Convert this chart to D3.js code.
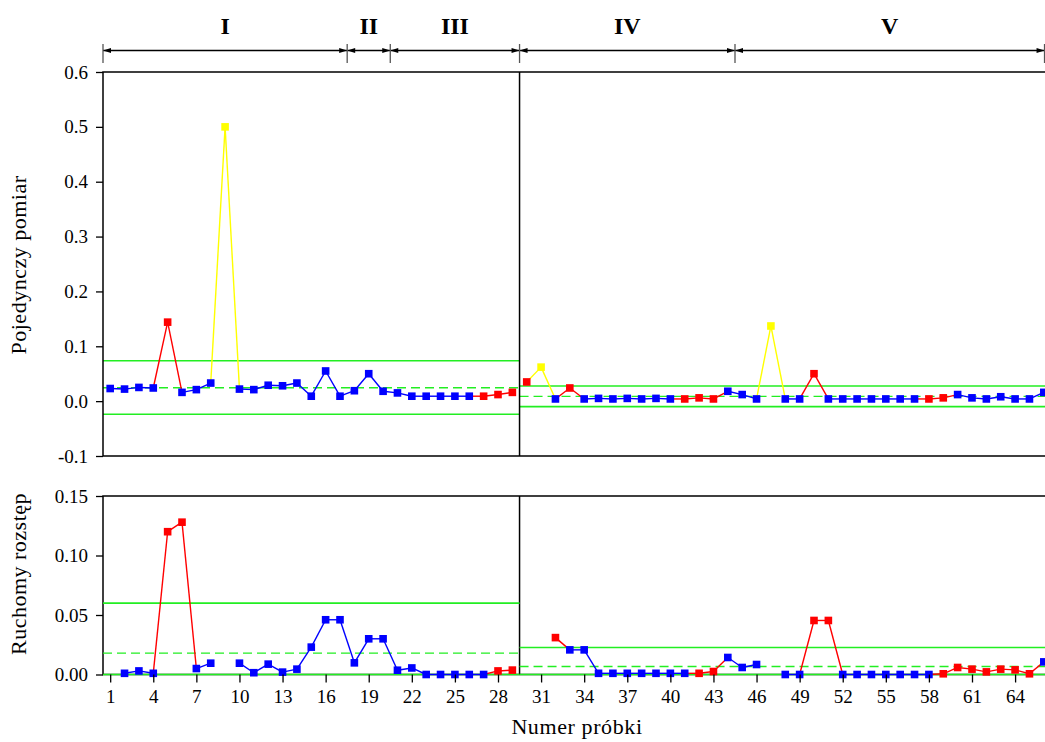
<!DOCTYPE html>
<html>
<head>
<meta charset="utf-8">
<script src="https://cdn.jsdelivr.net/npm/d3@7/dist/d3.min.js"></script>
<style>
  html, body { margin: 0; padding: 0; background: #fff; }
  svg { display: block; }
  text { font-family: "Liberation Serif", "Times New Roman", serif; fill: #000; }
</style>
</head>
<body>
<svg id="chart" width="1045" height="742"></svg>
<script>
// Phases of the process (sample-number boundaries) and their labels
const phaseLabels = ["I", "II", "III", "IV", "V"];
const phaseBounds = [0.5, 17.5, 20.5, 29.5, 44.5, 66.05];

// Panel A: samples 1–29, panel B: samples 30–66
const samplesA = [1,2,3,4,5,6,7,8,9,10,11,12,13,14,15,16,17,18,19,20,21,22,23,24,25,26,27,28,29];
const samplesB = [30,31,32,33,34,35,36,37,38,39,40,41,42,43,44,45,46,47,48,49,50,51,52,53,54,55,56,57,58,59,60,61,62,63,64,65,66];

// Individual measurements
const indivA = [0.023,0.022,0.025,0.024,0.144,0.016,0.021,0.033,0.500,0.022,0.021,0.029,0.028,0.033,0.009,0.055,0.009,0.019,0.050,0.018,0.015,0.009,0.009,0.009,0.009,0.009,0.009,0.012,0.016];
const indivB = [0.035,0.062,0.004,0.024,0.004,0.005,0.004,0.005,0.004,0.005,0.004,0.004,0.006,0.004,0.018,0.012,0.004,0.137,0.004,0.004,0.050,0.004,0.004,0.004,0.004,0.004,0.004,0.004,0.004,0.006,0.012,0.006,0.004,0.008,0.004,0.004,0.016];
// Point status: b = in control, r = rule violation, y = excluded outlier
const indivStatusA = ["b","b","b","b","r","b","b","b","y","b","b","b","b","b","b","b","b","b","b","b","b","b","b","b","b","b","r","r","r"];
const indivStatusB = ["r","y","b","r","b","b","b","b","b","b","b","r","r","r","b","b","b","y","b","b","r","b","b","b","b","b","b","b","r","r","b","b","b","b","b","b","b"];

// Moving ranges (null = not computed)
const mrA = [null,0.001,0.003,0.001,0.120,0.128,0.005,0.0095,null,0.0095,0.0015,0.0087,0.002,0.0045,0.023,0.046,0.046,0.0098,0.030,0.030,0.0036,0.0055,0,0,0,0,0,0.003,0.0037];
const mrB = [null,null,0.031,0.0207,0.0207,0.001,0.001,0.001,0.001,0.001,0.001,0.001,0.001,0.0025,0.0143,0.0059,0.0084,null,0,0,0.0454,0.0454,0,0,0,0,0,0,0,0.0006,0.0059,0.0045,0.0022,0.0045,0.0039,0.0006,0.0106];
const mrStatusA = ["b","b","b","b","r","r","b","b","b","b","b","b","b","b","b","b","b","b","b","b","b","b","b","b","b","b","b","r","r"];
const mrStatusB = ["b","b","r","b","b","b","b","b","b","b","b","b","r","r","b","b","b","b","b","b","r","r","b","b","b","b","b","b","b","r","r","r","r","r","r","r","b"];

// Control limits per panel: [LCL, centre, UCL]
const limitsIndivA = [-0.024, 0.0245, 0.0735];
const limitsIndivB = [-0.010, 0.0087, 0.0275];
const limitsMrA = [0, 0.018, 0.060];
const limitsMrB = [0, 0.0067, 0.0227];

// Axis ticks
const indivTicks = [-0.1, 0.0, 0.1, 0.2, 0.3, 0.4, 0.5, 0.6];
const indivTickLabels = ["-0.1", "0.0", "0.1", "0.2", "0.3", "0.4", "0.5", "0.6"];
const mrTicks = [0, 0.05, 0.10, 0.15];
const mrTickLabels = ["0.00", "0.05", "0.10", "0.15"];
const sampleTicks = [1,4,7,10,13,16,19,22,25,28,31,34,37,40,43,46,49,52,55,58,61,64];

const COLORS = { b: "#0000ff", r: "#ff0000", y: "#ffff00" };
const GREEN = "#22ee22";
const rank = { b: 0, r: 1, y: 2 };

const svg = d3.select("#chart");

const x = d3.scaleLinear().domain([0.5, 66.5]).range([103, 1051]);
const yI = d3.scaleLinear().domain([-0.1, 0.6]).range([456, 72]);
const yM = d3.scaleLinear().domain([0, 0.15]).range([674.5, 496]);

const splitX = x(29.5);

// ---- phase header with double arrows ----
const header = svg.append("g");
const arrowY = 50.5;
phaseLabels.forEach((lab, i) => {
  const x0 = x(phaseBounds[i]), x1 = x(phaseBounds[i + 1]);
  header.append("line")
    .attr("x1", x0).attr("x2", x1).attr("y1", arrowY).attr("y2", arrowY)
    .attr("stroke", "#000").attr("stroke-width", 1.3);
  const ah = 8, aw = 2.6;
  header.append("path")
    .attr("d", `M${x0},${arrowY} L${x0 + ah},${arrowY - aw} L${x0 + ah},${arrowY + aw} Z`)
    .attr("fill", "#000");
  header.append("path")
    .attr("d", `M${x1},${arrowY} L${x1 - ah},${arrowY - aw} L${x1 - ah},${arrowY + aw} Z`)
    .attr("fill", "#000");
  header.append("text")
    .attr("x", (x0 + x1) / 2).attr("y", 34)
    .attr("text-anchor", "middle")
    .attr("font-size", 24).attr("font-weight", "bold")
    .text(lab);
});
phaseBounds.forEach(b => {
  header.append("line")
    .attr("x1", x(b)).attr("x2", x(b)).attr("y1", 44).attr("y2", 63)
    .attr("stroke", "#555").attr("stroke-width", 1.3);
});

// ---- helpers ----
function drawLimits(g, yScale, lims, xa, xb) {
  [lims[0], lims[2]].forEach(v => {
    g.append("line").attr("x1", xa).attr("x2", xb)
      .attr("y1", yScale(v)).attr("y2", yScale(v))
      .attr("stroke", GREEN).attr("stroke-width", 1.6);
  });
  g.append("line").attr("x1", xa).attr("x2", xb)
    .attr("y1", yScale(lims[1])).attr("y2", yScale(lims[1]))
    .attr("stroke", GREEN).attr("stroke-width", 1.4)
    .attr("stroke-dasharray", "9,5");
}

function drawSeries(g, yScale, samples, values, status) {
  const segs = [];
  for (let i = 0; i < samples.length - 1; i++) {
    if (values[i] == null || values[i + 1] == null) continue;
    const s = rank[status[i]] >= rank[status[i + 1]] ? status[i] : status[i + 1];
    segs.push({ a: i, b: i + 1, s });
  }
  // in-control segments first, highlighted ones on top
  segs.sort((p, q) => rank[p.s] - rank[q.s]);
  g.selectAll(null).data(segs).enter().append("line")
    .attr("x1", d => x(samples[d.a])).attr("y1", d => yScale(values[d.a]))
    .attr("x2", d => x(samples[d.b])).attr("y2", d => yScale(values[d.b]))
    .attr("stroke", d => COLORS[d.s]).attr("stroke-width", 1.4);
  const pts = samples.map((s, i) => ({ s, v: values[i], c: status[i] })).filter(d => d.v != null);
  const m = 7.6;
  g.selectAll(null).data(pts).enter().append("rect")
    .attr("x", d => x(d.s) - m / 2).attr("y", d => yScale(d.v) - m / 2)
    .attr("width", m).attr("height", m)
    .attr("fill", d => COLORS[d.c]);
}

// ---- individual measurements chart ----
const gI = svg.append("g");
drawLimits(gI, yI, limitsIndivA, 103, splitX);
drawLimits(gI, yI, limitsIndivB, splitX, 1051);
drawSeries(gI, yI, samplesA, indivA, indivStatusA);
drawSeries(gI, yI, samplesB, indivB, indivStatusB);

const axI = svg.append("g").attr("transform", "translate(103,0)")
  .call(d3.axisLeft(yI).tickValues(indivTicks)
    .tickFormat((d, i) => indivTickLabels[i]).tickSize(7).tickSizeOuter(0).tickPadding(8));
axI.select(".domain").remove();
axI.selectAll("text").attr("font-family", "Liberation Serif").attr("font-size", 19);
axI.selectAll("line").attr("stroke-width", 1.3);

// frame of top chart
const frameI = svg.append("g").attr("stroke", "#000").attr("stroke-width", 1.5).attr("fill", "none");
frameI.append("path").attr("d", `M1060,72 H103 V456 H1060`);
frameI.append("line").attr("x1", splitX).attr("x2", splitX).attr("y1", 72).attr("y2", 456);

svg.append("text")
  .attr("transform", "translate(26,265) rotate(-90)")
  .attr("text-anchor", "middle").attr("font-size", 22).attr("letter-spacing", 0.5)
  .text("Pojedynczy pomiar");

// ---- moving range chart ----
const gM = svg.append("g");
const frameM = svg.append("g").attr("stroke", "#000").attr("stroke-width", 1.5).attr("fill", "none");
frameM.append("path").attr("d", `M1060,496 H103 V674.5 H1060`);
frameM.append("line").attr("x1", splitX).attr("x2", splitX).attr("y1", 496).attr("y2", 674.5);

drawLimits(gM, yM, limitsMrA, 103, splitX);
drawLimits(gM, yM, limitsMrB, splitX, 1051);
gM.raise();
drawSeries(gM, yM, samplesA, mrA, mrStatusA);
drawSeries(gM, yM, samplesB, mrB, mrStatusB);

const axM = svg.append("g").attr("transform", "translate(103,0)")
  .call(d3.axisLeft(yM).tickValues(mrTicks)
    .tickFormat((d, i) => mrTickLabels[i]).tickSize(7).tickSizeOuter(0).tickPadding(8));
axM.select(".domain").remove();
axM.selectAll("text").attr("font-family", "Liberation Serif").attr("font-size", 19);
axM.selectAll("line").attr("stroke-width", 1.3);

const axX = svg.append("g").attr("transform", "translate(0,674.5)")
  .call(d3.axisBottom(x).tickValues(sampleTicks).tickFormat(d3.format("d"))
    .tickSize(8).tickSizeOuter(0).tickPadding(7));
axX.select(".domain").remove();
axX.selectAll("text").attr("font-family", "Liberation Serif").attr("font-size", 19);
axX.selectAll("line").attr("stroke-width", 1.3);

svg.append("text")
  .attr("transform", "translate(26,574) rotate(-90)")
  .attr("text-anchor", "middle").attr("font-size", 22).attr("letter-spacing", 0.5)
  .text("Ruchomy rozstęp");

svg.append("text")
  .attr("x", 577).attr("y", 734)
  .attr("text-anchor", "middle").attr("font-size", 22).attr("letter-spacing", 0.6)
  .text("Numer próbki");
</script>
</body>
</html>
